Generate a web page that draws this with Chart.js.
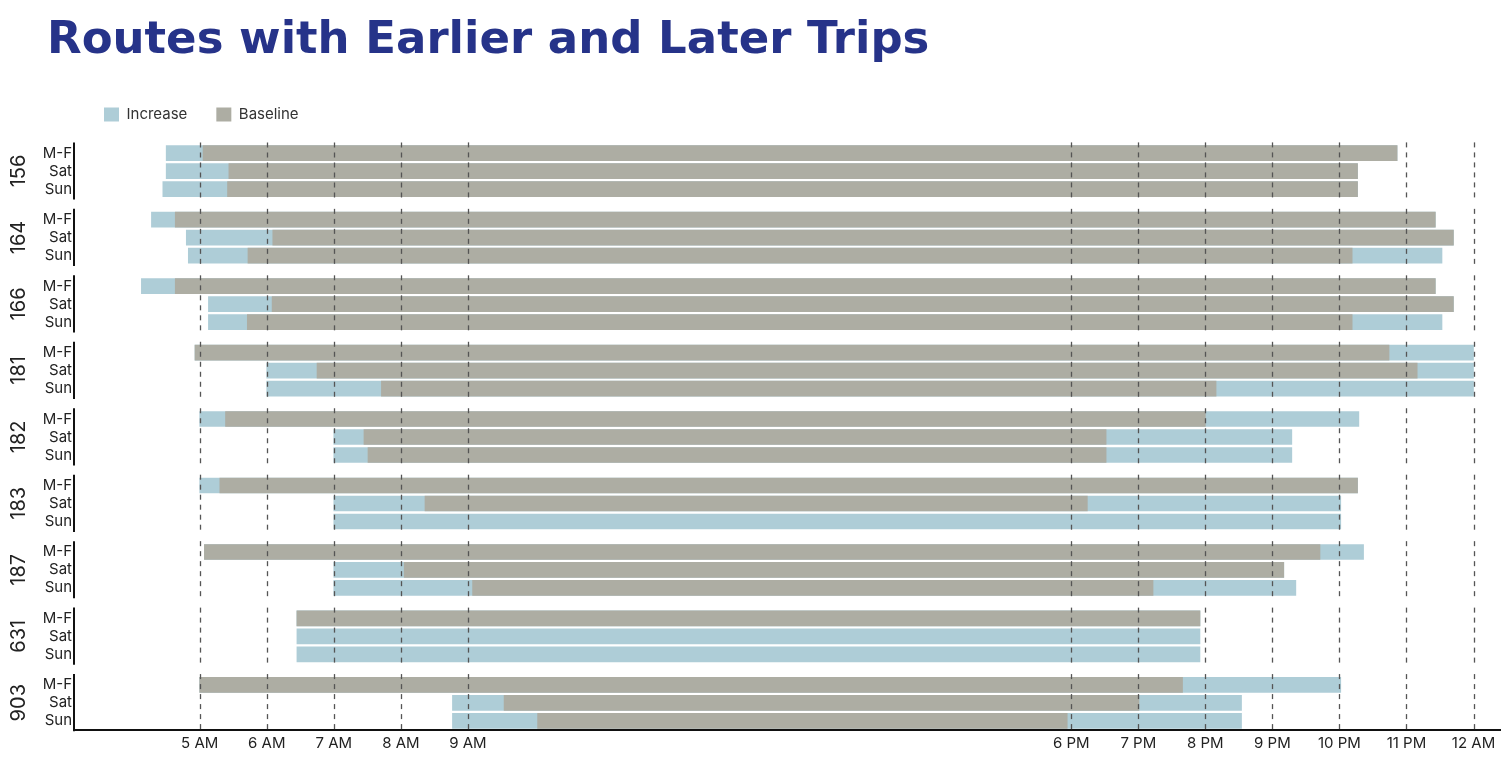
<!DOCTYPE html>
<html>
<head>
<meta charset="utf-8">
<script src="https://cdn.jsdelivr.net/npm/chart.js@4.4.1/dist/chart.umd.min.js"></script>
<style>
    html, body { margin: 0; padding: 0; background: #fff; }
    #wrap { position: relative; width: 1501px; height: 767px; }
    #titulo {
        position: absolute; left: 47px; top: 15px; margin: 0;
        font-family: 'DejaVu Sans', sans-serif; font-weight: bold;
        font-size: 45px; line-height: 45px; color: #263389;
        white-space: nowrap;
    }
</style>
</head>
<body>
<div id="wrap">
    <h1 id="titulo">Routes with Earlier and Later Trips</h1>
    <canvas id="grafico"></canvas>
</div>
<script>
// routes and service days
const routes = ['156', '164', '166', '181', '182', '183', '187', '631', '903'];
const days = ['M-F', 'Sat', 'Sun'];

// hours of the day (decimal), one value per route/day row
// first and last trip with the increase
const spanStart = [
    4.50, 4.50, 4.45,
    4.28, 4.80, 4.83,
    4.13, 5.13, 5.13,
    4.93, 6.00, 6.00,
    5.00, 7.00, 7.00,
    5.00, 7.00, 7.00,
    5.07, 7.00, 7.00,
    6.45, 6.45, 6.45,
    5.00, 8.77, 8.77
];
const spanEnd = [
    22.86, 22.27, 22.27,
    23.43, 23.70, 23.53,
    23.43, 23.70, 23.53,
    24.00, 24.00, 24.00,
    22.29, 21.29, 21.29,
    22.27, 22.02, 22.02,
    22.36, 21.17, 21.35,
    19.92, 19.92, 19.92,
    22.02, 20.54, 20.54
];
// baseline first and last trip (null = no baseline service)
const baseStart = [
    5.05, 5.435, 5.415,
    4.635, 6.09, 5.72,
    4.635, 6.08, 5.71,
    4.93, 6.75, 7.71,
    5.385, 7.45, 7.51,
    5.30, 8.36, null,
    5.07, 8.05, 9.07,
    6.45, null, null,
    5.00, 9.54, 10.04
];
const baseEnd = [
    22.86, 22.27, 22.27,
    23.43, 23.70, 22.19,
    23.43, 23.70, 22.19,
    22.74, 23.16, 20.16,
    20.00, 18.52, 18.52,
    22.27, 18.24, null,
    21.71, 21.17, 19.22,
    19.92, null, null,
    19.66, 19.01, 17.94
];

const tickHours = [5, 6, 7, 8, 9, 18, 19, 20, 21, 22, 23, 24];
const tickLabels = ['5 AM', '6 AM', '7 AM', '8 AM', '9 AM', '6 PM', '7 PM', '8 PM', '9 PM', '10 PM', '11 PM', '12 AM'];

const groupGap = 0.694;
function rowPos(g, d) {
    return g * (3 + groupGap) + d;
}

const rows = [];
routes.forEach((r, g) => days.forEach((d, i) => rows.push(rowPos(g, i))));

const increaseData = rows.map((p, i) => ({ y: p, x: [spanStart[i], spanEnd[i]] }));
const baselineData = rows.map((p, i) => ({ y: p, x: baseStart[i] === null ? null : [baseStart[i], baseEnd[i]] }));

const groupLines = {
    id: 'groupLines',
    afterDatasetsDraw(chart) {
        const { ctx, chartArea, scales: { x, y } } = chart;
        ctx.save();
        routes.forEach((r, g) => {
            const top = y.getPixelForValue(rowPos(g, 0) - 0.6);
            const bottom = y.getPixelForValue(rowPos(g, 2) + 0.58);

            ctx.setLineDash([5, 5]);
            ctx.strokeStyle = '#555';
            ctx.lineWidth = 1.3;
            tickHours.forEach(h => {
                const px = Math.round(x.getPixelForValue(h)) + 0.5;
                ctx.beginPath();
                ctx.moveTo(px, top);
                ctx.lineTo(px, bottom);
                ctx.stroke();
            });

            ctx.setLineDash([]);
            ctx.strokeStyle = '#111';
            ctx.lineWidth = 2;
            ctx.beginPath();
            ctx.moveTo(chartArea.left - 1, top);
            ctx.lineTo(chartArea.left - 1, bottom);
            ctx.stroke();

            ctx.save();
            ctx.translate(chartArea.left - 56, (top + bottom) / 2);
            ctx.rotate(-Math.PI / 2);
            ctx.font = '20px Inter';
            ctx.fillStyle = '#222';
            ctx.textAlign = 'center';
            ctx.textBaseline = 'middle';
            ctx.fillText(r, 0, 0);
            ctx.restore();
        });
        ctx.restore();
    }
};

const ctx = document.getElementById('grafico');
const myChart = new Chart(ctx, {
    type: 'bar',
    data: {
        datasets: [{
            label: 'Increase',
            data: increaseData,
            backgroundColor: '#aecdd7',
            borderWidth: 0,
            order: 1
        }, {
            label: 'Baseline',
            data: baselineData,
            backgroundColor: '#adada3',
            borderWidth: 0,
            order: 0
        }]
    },
    options: {
        indexAxis: 'y',
        responsive: true,
        maintainAspectRatio: false,
        animation: false,
        layout: { padding: { left: 0, top: 78, right: 0, bottom: 11 } },
        datasets: {
            bar: { grouped: false, barThickness: 15 }
        },
        scales: {
            x: {
                type: 'linear',
                min: 3.14,
                max: 24.41,
                afterBuildTicks: scale => { scale.ticks = tickHours.map(v => ({ value: v })); },
                ticks: {
                    autoSkip: false,
                    maxRotation: 0,
                    padding: 4,
                    color: '#222',
                    font: { family: 'Inter', size: 15 },
                    callback: (value, index) => tickLabels[index]
                },
                grid: { display: false, drawTicks: false },
                border: { display: true, color: '#111', width: 2 }
            },
            y: {
                type: 'linear',
                reverse: true,
                offset: false,
                min: -1.178,
                max: 32.06,
                afterBuildTicks: scale => { scale.ticks = rows.map(v => ({ value: v })); },
                afterFit: scale => { scale.width = 75; },
                ticks: {
                    autoSkip: false,
                    padding: 3,
                    color: '#222',
                    font: { family: 'Inter', size: 15 },
                    callback: (value, index) => days[index % 3]
                },
                grid: { display: false, drawTicks: false },
                border: { display: false }
            }
        },
        plugins: {
            legend: {
                display: true,
                position: 'top',
                align: 'start',
                fullSize: false,
                labels: {
                    boxWidth: 15,
                    boxHeight: 14,
                    padding: 29,
                    color: '#333',
                    font: { family: 'Inter', size: 15 },
                    sort: (a, b) => a.datasetIndex - b.datasetIndex
                }
            },
            tooltip: { enabled: false }
        }
    },
    plugins: [groupLines]
});
</script>
</body>
</html>
